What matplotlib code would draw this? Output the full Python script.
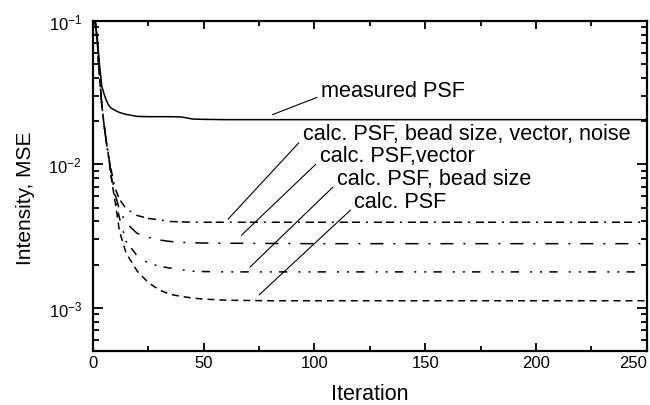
import numpy as np
import matplotlib
matplotlib.use("Agg")
import matplotlib.pyplot as plt

plt.rcParams['font.family'] = ['Liberation Sans', 'DejaVu Sans']
plt.rcParams['mathtext.fontset'] = 'custom'
plt.rcParams['mathtext.rm'] = 'Liberation Sans'
plt.rcParams['mathtext.it'] = 'Liberation Sans'
plt.rcParams['lines.scale_dashes'] = False

# data
iters = [1, 2, 3, 4, 5, 6, 7, 8, 10, 12, 15, 20, 25, 30, 35, 40, 45, 50, 60, 80, 100, 150, 200, 250]
measured = [0.1, 0.075, 0.049, 0.035, 0.031, 0.028, 0.026, 0.0248, 0.0238, 0.023, 0.0223, 0.0216,
            0.0215, 0.0215, 0.0215, 0.0214, 0.0207, 0.0206, 0.0205, 0.0205, 0.0205, 0.0205, 0.0205, 0.0205]
calc_noise = [0.1, 0.07, 0.04, 0.026, 0.019, 0.0145, 0.0115, 0.0095, 0.0068, 0.0057, 0.0049, 0.0044,
              0.0042, 0.0041, 0.0040, 0.00397, 0.00395, 0.00395, 0.00395, 0.00395, 0.00395, 0.00395, 0.00395, 0.00395]
calc_vector = [0.1, 0.07, 0.04, 0.026, 0.019, 0.0145, 0.0115, 0.009, 0.0062, 0.0048, 0.0039, 0.0033,
               0.0031, 0.00297, 0.0029, 0.00286, 0.00284, 0.00283, 0.00282, 0.00281, 0.0028, 0.0028, 0.0028, 0.0028]
calc_bead = [0.1, 0.07, 0.04, 0.026, 0.019, 0.0145, 0.0115, 0.0088, 0.0058, 0.0042, 0.0029, 0.0023,
             0.00205, 0.00195, 0.00189, 0.00184, 0.0018, 0.00179, 0.00178, 0.00178, 0.00178, 0.00178, 0.00178, 0.00178]
calc_psf = [0.1, 0.07, 0.04, 0.026, 0.019, 0.0145, 0.0115, 0.0085, 0.0055, 0.0034, 0.0024, 0.0018,
            0.0015, 0.00133, 0.00124, 0.0012, 0.00117, 0.00115, 0.00113, 0.00112, 0.00112, 0.00112, 0.00112, 0.00112]

labels = ["measured PSF", "calc. PSF, bead size, vector, noise", "calc. PSF,vector",
          "calc. PSF, bead size", "calc. PSF"]
series = [measured, calc_noise, calc_vector, calc_bead, calc_psf]
styles = ['-', (0, (5.8, 2.9, 5.8, 4.3, 1.4, 4.3)), (0, (9.4, 7.2, 1.4, 7.2)),
          (0, (6, 8, 1.4, 5.8, 1.4, 5.2)), (0, (5, 3.6))]

# annotation: point on curve, text anchor
ann_xy = [(81, 0.0222), (61, 0.00415), (67, 0.0032), (71, 0.00193), (75, 0.00123)]
ann_text = [(103, 0.0327), (94.6, 0.0164), (102.3, 0.01155), (110, 0.0080), (118, 0.00553)]

fig = plt.figure(figsize=(6.5, 4.06), dpi=100)
ax = fig.add_subplot(111)
fig.subplots_adjust(left=0.143, right=0.995, top=0.946, bottom=0.133)

for s, ls in zip(series, styles):
    ax.plot(iters, s, color='k', lw=1.1, linestyle=ls)

for lab, xy, xt in zip(labels, ann_xy, ann_text):
    ax.annotate(lab, xy=xy, xytext=xt, ha='left', va='center', fontsize=15.6,
                arrowprops=dict(arrowstyle='-', lw=0.8, color='k',
                                shrinkA=1, shrinkB=0, relpos=(0, 0.25)))

ax.set_yscale('log')
ax.set_xlim(0, 250)
ax.set_ylim(5e-4, 1e-1)
ax.set_xticks([0, 50, 100, 150, 200, 250])
ax.set_xticks(np.arange(25, 250, 50), minor=True)
ax.set_yticks([1e-3, 1e-2, 1e-1])
ax.set_yticklabels([r'$10^{-3}$', r'$10^{-2}$', r'$10^{-1}$'])

ax.tick_params(which='both', direction='in', top=True, right=True, width=1.3, labelsize=12)
ax.tick_params(axis='x', which='major', length=5.5, pad=3)
ax.tick_params(axis='x', which='minor', length=3.5)
ax.tick_params(axis='y', which='major', length=7, pad=8)
ax.tick_params(axis='y', which='minor', length=4.5)
ax.get_xticklabels()[-1].set_horizontalalignment('right')
for sp in ax.spines.values():
    sp.set_linewidth(1.6)

ax.set_xlabel("Iteration", fontsize=15.5, labelpad=9.5)
ax.set_ylabel("Intensity, MSE", fontsize=15)
ax.yaxis.set_label_coords(-0.105, 0.467)

fig.savefig("out.png", dpi=100)
